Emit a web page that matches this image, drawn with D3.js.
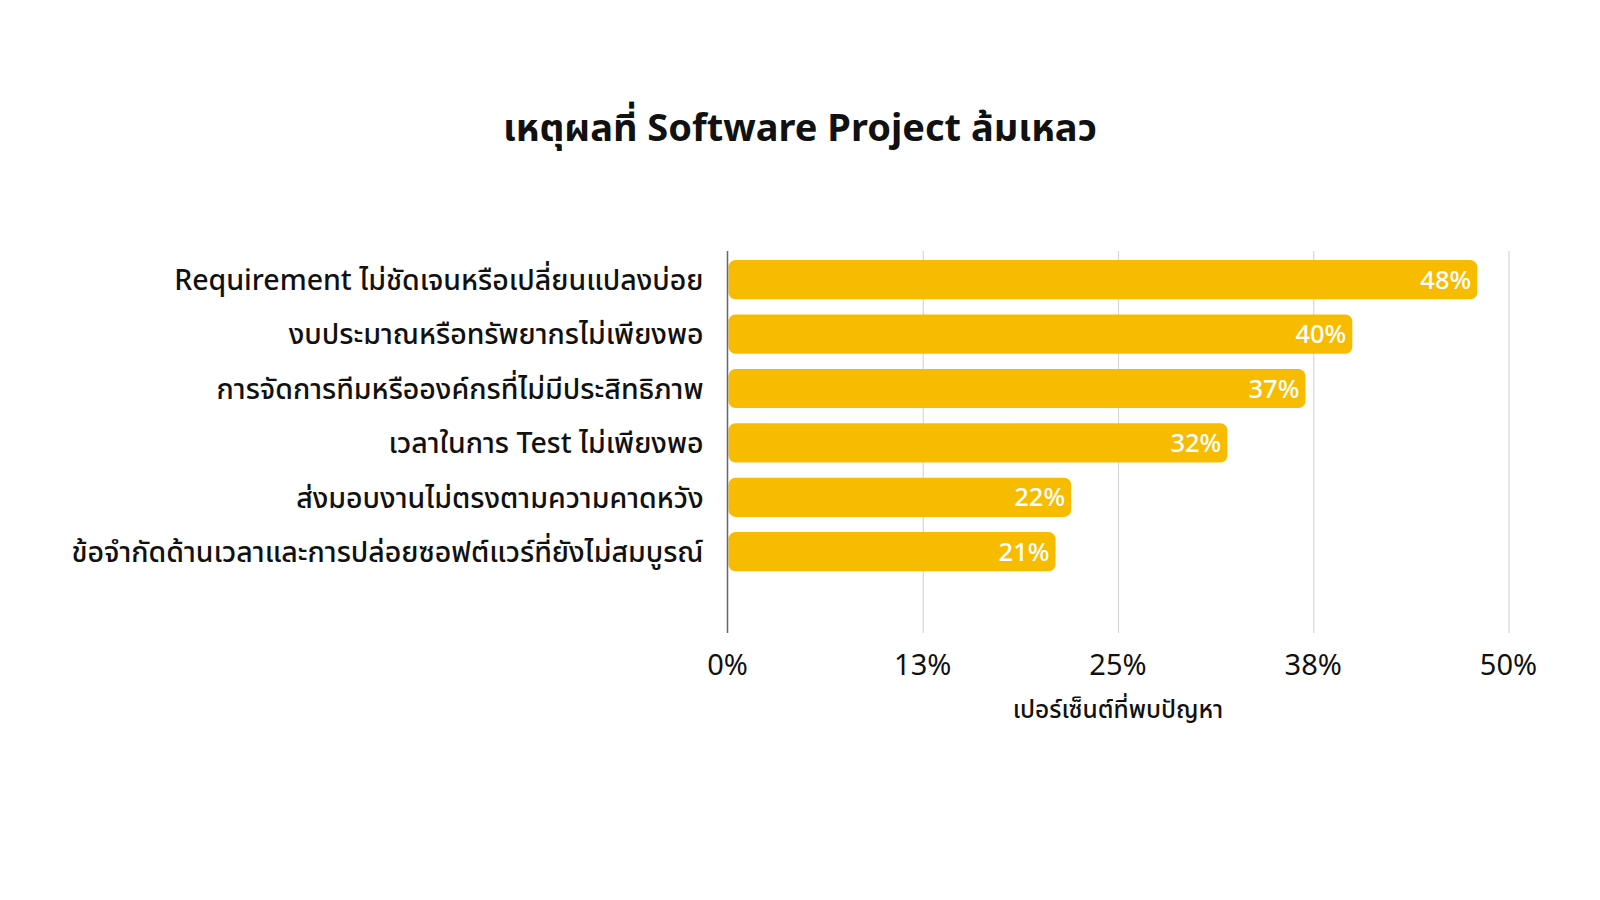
<!DOCTYPE html>
<html>

<head>
  <meta charset="utf-8">
  <script src="https://d3js.org/d3.v7.min.js"></script>

  <style>
    body {
      margin: 0;
      background: #fff;
      font-family: "Noto Sans", "Noto Sans Thai", sans-serif;
    }

    .grid line {
      stroke: #d6d6d6;
      stroke-width: 1.2;
    }

    .grid .domain {
      display: none;
    }
  </style>
</head>

<body>
  <script type="text/javascript">
    // data
    var title = "เหตุผลที่ Software Project ล้มเหลว";
    var axisTitle = "เปอร์เซ็นต์ที่พบปัญหา";
    var reasons = [
      "Requirement ไม่ชัดเจนหรือเปลี่ยนแปลงบ่อย",
      "งบประมาณหรือทรัพยากรไม่เพียงพอ",
      "การจัดการทีมหรือองค์กรที่ไม่มีประสิทธิภาพ",
      "เวลาในการ Test ไม่เพียงพอ",
      "ส่งมอบงานไม่ตรงตามความคาดหวัง",
      "ข้อจำกัดด้านเวลาและการปล่อยซอฟต์แวร์ที่ยังไม่สมบูรณ์"
    ];
    var percents = [48, 40, 37, 32, 22, 21];
    var tickValues = [0, 12.5, 25, 37.5, 50];

    var width = 1600,
      height = 900;
    var plotLeft = 727.5,
      plotRight = 1508.5,
      plotTop = 251,
      plotBottom = 633;
    var barColor = '#F7BC00';

    var svg = d3.select("body")
      .append("svg")
      .attr("width", width)
      .attr("height", height);

    svg.append("text")
      .attr("x", 800)
      .attr("y", 141)
      .attr("text-anchor", "middle")
      .attr("font-size", 38)
      .attr("font-weight", 700)
      .attr("fill", "#111")
      .text(title);

    var x = d3.scaleLinear()
      .domain([0, 50])
      .range([plotLeft, plotRight]);

    var y = d3.scaleBand()
      .domain(reasons)
      .range([252.5, 252.5 + 54.4 * reasons.length])
      .paddingInner(0.28)
      .paddingOuter(0.14);

    // gridlines
    svg.append("g")
      .attr("class", "grid")
      .attr("transform", "translate(0," + plotBottom + ")")
      .call(d3.axisBottom(x)
        .tickValues(tickValues.slice(1))
        .tickSize(-(plotBottom - plotTop))
        .tickFormat(""));

    // tick labels
    svg.append("g")
      .selectAll("text")
      .data(tickValues)
      .enter().append("text")
      .attr("x", function(d) {
        return x(d);
      })
      .attr("y", plotBottom + 42)
      .attr("text-anchor", "middle")
      .attr("font-size", 29)
      .attr("fill", "#111")
      .text(function(d) {
        return Math.round(d) + "%";
      });

    svg.append("text")
      .attr("x", (plotLeft + plotRight) / 2)
      .attr("y", plotBottom + 85)
      .attr("text-anchor", "middle")
      .attr("font-size", 24.5)
      .attr("font-weight", 500)
      .attr("fill", "#111")
      .text(axisTitle);

    var rows = svg.append("g")
      .selectAll("g")
      .data(reasons)
      .enter().append("g");

    rows.append("rect")
      .attr("x", x(0) + 1)
      .attr("y", function(d) {
        return y(d);
      })
      .attr("width", function(d, i) {
        return x(percents[i]) - x(0) - 1;
      })
      .attr("height", y.bandwidth())
      .attr("rx", 7)
      .attr("fill", barColor);

    rows.append("text")
      .attr("x", function(d, i) {
        return x(percents[i]) - 6;
      })
      .attr("y", function(d) {
        return y(d) + y.bandwidth() / 2;
      })
      .attr("dy", "0.36em")
      .attr("text-anchor", "end")
      .attr("font-size", 25.5)
      .attr("font-weight", 500)
      .attr("fill", "#fff")
      .text(function(d, i) {
        return percents[i] + "%";
      });

    rows.append("text")
      .attr("x", plotLeft - 24)
      .attr("y", function(d) {
        return y(d) + y.bandwidth() / 2;
      })
      .attr("dy", "0.36em")
      .attr("text-anchor", "end")
      .attr("font-size", 28.5)
      .attr("font-weight", 500)
      .attr("fill", "#111")
      .text(function(d) {
        return d;
      });

    // vertical axis line
    svg.append("line")
      .attr("x1", plotLeft)
      .attr("x2", plotLeft)
      .attr("y1", plotTop)
      .attr("y2", plotBottom)
      .attr("stroke", "#666")
      .attr("stroke-width", 1.5);
  </script>
</body>

</html>
